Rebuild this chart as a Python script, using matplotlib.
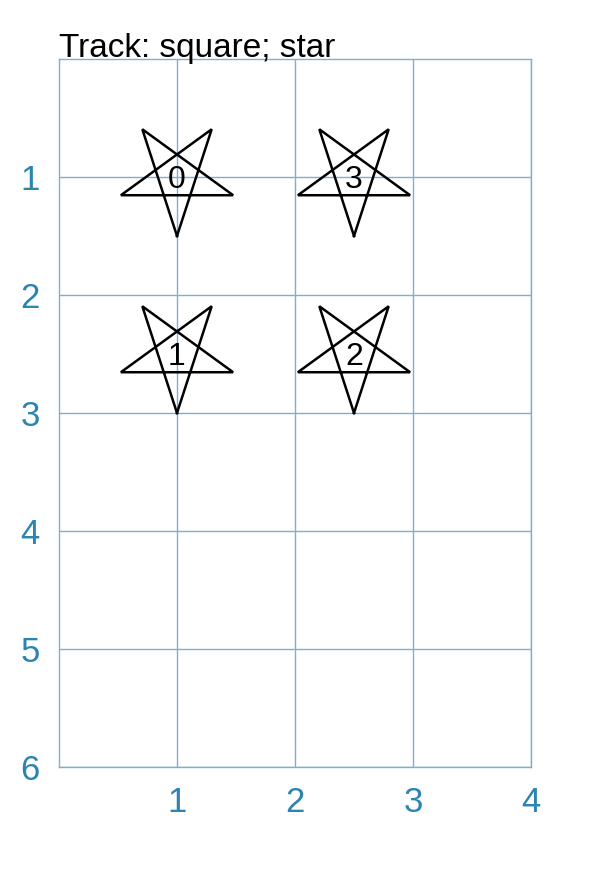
import numpy as np
import matplotlib
matplotlib.use("Agg")
import matplotlib.pyplot as plt

plt.rcParams['font.family'] = ['Liberation Sans', 'DejaVu Sans']

# star centres (data coords, y grows downward) and their labels
star_x = [1.0, 1.0, 2.5, 2.5]
star_y = [1.0, 2.5, 2.5, 1.0]
star_labels = ['0', '1', '2', '3']
star_radius = 0.5

x_ticks = [1, 2, 3, 4]
y_ticks = [1, 2, 3, 4, 5, 6]
title = 'Track: square; star'

grid_col = '#7cb0cd'
tick_col = '#2c84b0'


def pentagram(cx, cy, r):
    # vertices every 144 deg, first one pointing down on screen (y inverted)
    ang = np.deg2rad(90 + 144 * np.arange(6))
    return cx + r * np.cos(ang), cy + r * np.sin(ang)


fig = plt.figure(figsize=(6.13, 8.75), dpi=100)
ax = fig.add_axes([59 / 613, 1 - 767 / 875, 472 / 613, 708 / 875])
ax.set_xlim(0, 4)
ax.set_ylim(6, 0)

ax.set_xticks(x_ticks)
ax.set_yticks(y_ticks)
ax.tick_params(length=0, labelsize=25, labelcolor=tick_col, pad=14)
ax.grid(True, color=grid_col, linewidth=1.0)
for s in ax.spines.values():
    s.set_color(grid_col)
    s.set_linewidth(1.0)

for cx, cy, lab in zip(star_x, star_y, star_labels):
    xs, ys = pentagram(cx, cy, star_radius)
    ax.plot(xs, ys, color='black', linewidth=1.8, solid_joinstyle='miter', zorder=3)
    # small nudge down so the digit sits on the star centre like the original
    ax.text(cx, cy + 0.025, lab, ha='center', va='center', fontsize=23,
            color='black', zorder=4)

fig.text(59 / 613, 1 - 57 / 875, title, ha='left', va='baseline', fontsize=24, color='black')

fig.savefig('out.png', dpi=100)
